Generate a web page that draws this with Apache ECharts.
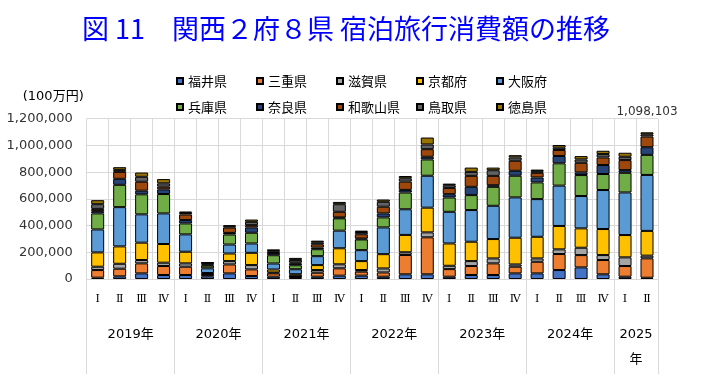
<!DOCTYPE html>
<html><head><meta charset="utf-8">
<script src="https://cdn.jsdelivr.net/npm/echarts@6/dist/echarts.min.js"></script>
<style>html,body{margin:0;padding:0;background:#fff}#c{width:701px;height:388px}</style>
</head><body><div id="c"></div>
<script>
const quarters = ['Ⅰ','Ⅱ','Ⅲ','Ⅳ','Ⅰ','Ⅱ','Ⅲ','Ⅳ','Ⅰ','Ⅱ','Ⅲ','Ⅳ','Ⅰ','Ⅱ','Ⅲ','Ⅳ','Ⅰ','Ⅱ','Ⅲ','Ⅳ','Ⅰ','Ⅱ','Ⅲ','Ⅳ','Ⅰ','Ⅱ'];
const yearLabels = ['2019年','2020年','2021年','2022年','2023年','2024年','2025\n年'];
const yearCenters = [2, 6, 10, 14, 18, 22, 25];
const yearBounds = [0, 4, 8, 12, 16, 20, 24, 26];
const prefectures = ['福井県','三重県','滋賀県','京都府','大阪府','兵庫県','奈良県','和歌山県','鳥取県','徳島県'];
const colors = ['#4472C4','#ED7D31','#A5A5A5','#FFC000','#5B9BD5','#70AD47','#264478','#9E480E','#636363','#997300'];

const fukui     = [10000, 20000, 42000, 30000, 30000, 20000, 42000, 22000, 17000, 8000, 17000, 25000, 25000, 17000, 35000, 35000, 17000, 30000, 30000, 42000, 42000, 67000, 87000, 35000, 17000, 9500];
const mie       = [57000, 57000, 75000, 67000, 62000, 12000, 67000, 50000, 25000, 10000, 30000, 55000, 30000, 32000, 145000, 277000, 57000, 67000, 87000, 50000, 87000, 120000, 92000, 107000, 80000, 145200];
const shiga     = [25000, 37000, 25000, 25000, 25000, 5000, 25000, 32000, 7000, 3000, 20000, 30000, 12000, 30000, 20000, 37000, 25000, 37000, 37000, 17000, 25000, 35000, 55000, 37000, 65000, 20100];
const kyoto     = [107000, 130000, 130000, 140000, 87000, 8000, 57000, 92000, 22000, 15000, 37000, 120000, 67000, 107000, 130000, 185000, 167000, 145000, 145000, 200000, 162000, 175000, 145000, 195000, 167000, 185300];
const osaka     = [172000, 294000, 212000, 229000, 130000, 35000, 67000, 70000, 45000, 37000, 67000, 132000, 82000, 200000, 192000, 239000, 237000, 237000, 249000, 302000, 282000, 302000, 242000, 292000, 319000, 419000];
const hyogo     = [120000, 167000, 150000, 145000, 82000, 20000, 75000, 80000, 62000, 30000, 52000, 92000, 80000, 75000, 125000, 122000, 107000, 112000, 142000, 162000, 125000, 167000, 157000, 120000, 147000, 150200];
const nara      = [17000, 45000, 27000, 35000, 25000, 8000, 12000, 40000, 17000, 12000, 12000, 7000, 7000, 30000, 20000, 20000, 25000, 62000, 12000, 37000, 37000, 55000, 20000, 67000, 20000, 57300];
const wakayama  = [17000, 52000, 67000, 20000, 42000, 8000, 40000, 17000, 12000, 8000, 25000, 42000, 32000, 50000, 62000, 57000, 47000, 82000, 70000, 75000, 35000, 45000, 72000, 57000, 75000, 79800];
const tottori   = [35000, 15000, 37000, 25000, 12000, 5000, 10000, 25000, 7000, 20000, 15000, 57000, 17000, 37000, 25000, 35000, 20000, 30000, 42000, 25000, 12000, 17000, 25000, 25000, 25000, 16900];
const tokushima = [30000, 20000, 32000, 32000, 10000, 4000, 7000, 17000, 5000, 15000, 12000, 17000, 10000, 17000, 17000, 52000, 12000, 32000, 20000, 17000, 12000, 20000, 25000, 25000, 30000, 14803];

const seriesValues = [fukui, mie, shiga, kyoto, osaka, hyogo, nara, wakayama, tottori, tokushima];
const labelIndex = quarters.length - 1;

const chart = echarts.init(document.getElementById('c'), null, {renderer: 'canvas'});
const fmt = v => Number(v).toLocaleString('en-US');

const series = prefectures.map((name, i) => {
  const data = seriesValues[i].map((v, j) => {
    if (i === prefectures.length - 1 && j === labelIndex) {
      return {
        value: v,
        label: {
          show: true, position: 'top', distance: 14,
          fontFamily: 'DejaVu Sans', fontSize: 12, color: '#333',
          formatter: () => fmt(seriesValues.reduce((s, arr) => s + arr[labelIndex], 0))
        }
      };
    }
    return v;
  });
  return {
    name, type: 'bar', stack: 'total', barWidth: 13, data,
    itemStyle: {color: colors[i], borderColor: '#000', borderWidth: 1},
    emphasis: {disabled: true}
  };
});

chart.setOption({
  animation: false,
  title: {
    text: '図 11　関西２府８県 宿泊旅行消費額の推移',
    left: 77, top: 9,
    textStyle: {fontFamily: 'Noto Sans CJK JP', fontSize: 27, fontWeight: 'normal', color: '#0000FF', lineHeight: 30}
  },
  legend: {
    left: 171, top: 69.5, width: 395,
    itemWidth: 6, itemHeight: 6, itemGap: 13, icon: 'rect',
    selectedMode: false,
    textStyle: {fontFamily: 'Noto Sans CJK JP', fontSize: 13, color: '#000', width: 55, lineHeight: 13}
  },
  grid: {left: 86.7, right: 43, top: 118.7, bottom: 109, containLabel: false},
  xAxis: [
    {
      type: 'category', data: quarters, position: 'bottom',
      axisLine: {lineStyle: {color: '#d9d9d9'}},
      axisTick: {show: false},
      axisLabel: {interval: 0, margin: 15, fontFamily: 'DejaVu Serif, Noto Sans CJK JP', fontSize: 11, color: '#000'},
      splitLine: {show: true, lineStyle: {color: '#d9d9d9'}}
    },
    {
      type: 'value', min: 0, max: 26, position: 'bottom',
      axisLine: {show: false},
      axisTick: {show: true, customValues: yearBounds, length: 95, lineStyle: {color: '#d9d9d9'}},
      axisLabel: {
        customValues: yearCenters, margin: 43, fontFamily: 'DejaVu Sans, Noto Sans CJK JP', fontSize: 13, lineHeight: 25, color: '#000',
        formatter: v => yearLabels[yearCenters.indexOf(v)]
      },
      splitLine: {show: false}
    }
  ],
  yAxis: {
    type: 'value', min: 0, max: 1200000, interval: 200000,
    name: '(100万円)', nameLocation: 'end', nameGap: 22,
    nameTextStyle: {align: 'right', verticalAlign: 'middle', padding: [0, 3, 0, 0], fontFamily: 'DejaVu Sans, Noto Sans CJK JP', fontSize: 13, color: '#000'},
    axisLine: {show: false}, axisTick: {show: false},
    axisLabel: {formatter: fmt, fontFamily: 'DejaVu Sans', fontSize: 13, color: '#333', margin: 14},
    splitLine: {lineStyle: {color: '#d9d9d9'}}
  },
  series
});
</script>
</body></html>
